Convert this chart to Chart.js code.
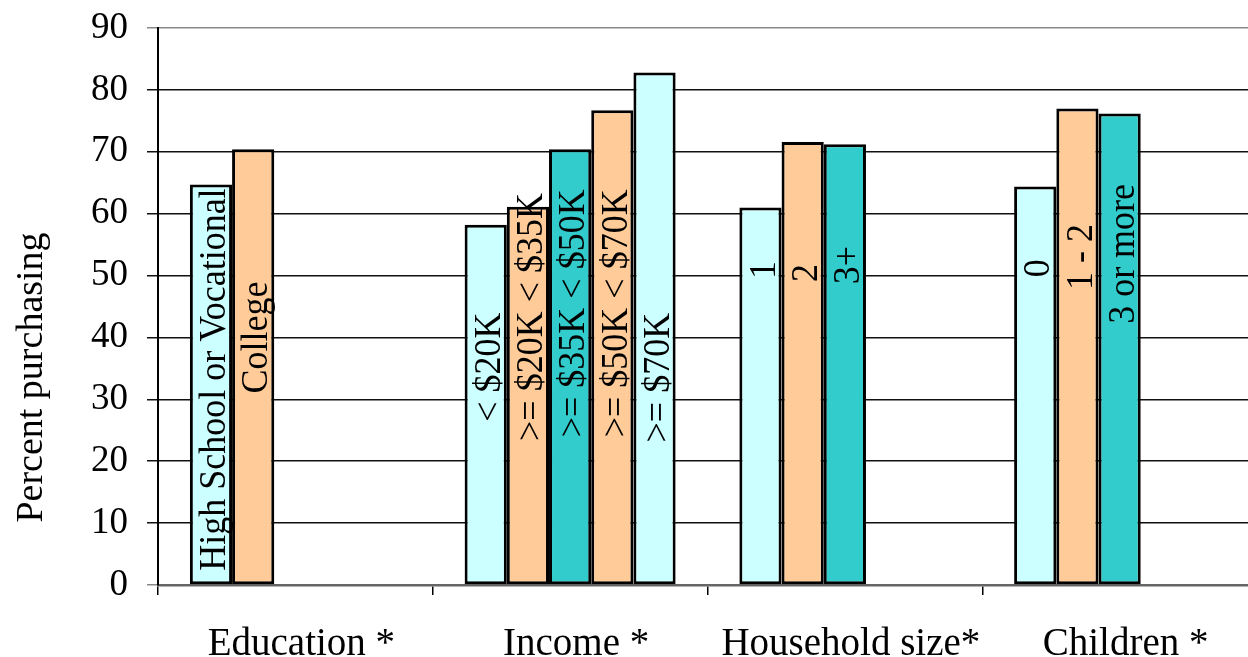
<!DOCTYPE html>
<html>
<head>
<meta charset="utf-8">
<title>Percent purchasing</title>
<script src="https://cdn.jsdelivr.net/npm/chart.js@4.4.1/dist/chart.umd.min.js"></script>
<style>
  html, body { margin: 0; padding: 0; background: #fff; overflow: hidden; }
  #wrap { width: 1248px; height: 657px; overflow: hidden; }
</style>
</head>
<body>
<div id="wrap"><canvas id="buyChart" width="1262" height="657"></canvas></div>
<script>
const groups = ["Education *", "Income *", "Household size*", "Children *"];

// one array per slot inside each group (null = slot unused in that group)
const slot1 = [64.7, 58.2, 61.0, 64.4];
const slot2 = [70.4, 61.1, 71.6, 77.0];
const slot3 = [null, 70.4, 71.2, 76.2];
const slot4 = [null, 76.7, null, null];
const slot5 = [null, 82.8, null, null];

const slot1Names = ["High School or Vocational", "< $20K", "1", "0"];
const slot2Names = ["College", ">= $20K < $35K", "2", "1 - 2"];
const slot3Names = [null, ">= $35K < $50K", "3+", "3 or more"];
const slot4Names = [null, ">= $50K < $70K", null, null];
const slot5Names = [null, ">= $70K", null, null];

const yTicks = [0, 10, 20, 30, 40, 50, 60, 70, 80, 90];

// where each rotated bar label is centred, in axis units
const nameMid = [
  [33.2, 35.2, 50.9, 51.2],
  [40.0, 43.3, 50.4, 53.0],
  [null, 43.9, 51.7, 53.5],
  [null, 43.9, null, null],
  [null, 33.5, null, null]
];

const CYAN = '#CCFFFF';
const PEACH = '#FFCC99';
const TEAL = '#33CCCC';
const SERIF = '"Liberation Serif", "Times New Roman", serif';

const slots = [slot1, slot2, slot3, slot4, slot5];
const slotNames = [slot1Names, slot2Names, slot3Names, slot4Names, slot5Names];
const slotColors = [CYAN, PEACH, TEAL, PEACH, CYAN];

const barNames = {
  id: 'barNames',
  afterDatasetsDraw(chart) {
    const ctx = chart.ctx;
    const y = chart.scales.y;
    ctx.save();
    ctx.fillStyle = '#000';
    ctx.font = '36px ' + SERIF;
    ctx.textAlign = 'center';
    ctx.textBaseline = 'middle';
    slotNames.forEach((names, i) => {
      const meta = chart.getDatasetMeta(i);
      names.forEach((name, j) => {
        if (!name) return;
        const bar = meta.data[j];
        ctx.save();
        ctx.translate(bar.x + 4, y.getPixelForValue(nameMid[i][j]));
        ctx.rotate(-Math.PI / 2);
        ctx.scale(1, 1.08);
        ctx.fillText(name, 0, 0);
        ctx.restore();
      });
    });
    ctx.restore();
  }
};

// y axis title sits lower than the plot centre
const yTitle = {
  id: 'yTitle',
  afterDraw(chart) {
    const ctx = chart.ctx;
    const area = chart.chartArea;
    ctx.save();
    ctx.fillStyle = '#000';
    ctx.font = '38px ' + SERIF;
    ctx.textAlign = 'center';
    ctx.textBaseline = 'middle';
    ctx.translate(32, (area.top + area.bottom) / 2 + 71);
    ctx.rotate(-Math.PI / 2);
    ctx.fillText('Percent purchasing', 0, 0);
    ctx.restore();
  }
};

new Chart(document.getElementById('buyChart'), {
  type: 'bar',
  data: {
    labels: groups,
    datasets: slots.map((vals, i) => ({
      data: vals,
      backgroundColor: slotColors[i],
      borderColor: '#000',
      borderWidth: 3,
      borderSkipped: false,
      barPercentage: 1.0,
      categoryPercentage: 0.768
    }))
  },
  options: {
    responsive: false,
    animation: false,
    layout: { padding: { top: 28, right: 5, left: 0, bottom: 0 } },
    plugins: {
      legend: { display: false },
      tooltip: { enabled: false }
    },
    scales: {
      x: {
        offset: true,
        grid: {
          offset: true,
          drawOnChartArea: false,
          drawTicks: true,
          tickLength: 10,
          color: '#000',
          lineWidth: 1.5
        },
        border: { display: true, color: '#666', width: 2.5 },
        ticks: {
          color: '#000',
          font: { family: SERIF, size: 39 },
          padding: 26,
          labelOffset: 6,
          maxRotation: 0,
          autoSkip: false
        },
        afterFit(scale) { scale.height = 72; }
      },
      y: {
        min: 0,
        max: 90,
        afterBuildTicks(scale) { scale.ticks = yTicks.map(v => ({ value: v })); },
        grid: {
          tickLength: 11,
          lineWidth: 1.5,
          color(c) {
            const v = c.tick ? c.tick.value : null;
            return (v === 90 || v === 0) ? '#888' : '#111';
          }
        },
        border: { display: true, color: '#000', width: 2 },
        ticks: {
          color: '#000',
          font: { family: SERIF, size: 37, lineHeight: 0.4 },
          padding: 19
        },
        afterFit(scale) { scale.width = 158; }
      }
    }
  },
  plugins: [barNames, yTitle]
});
</script>
</body>
</html>
